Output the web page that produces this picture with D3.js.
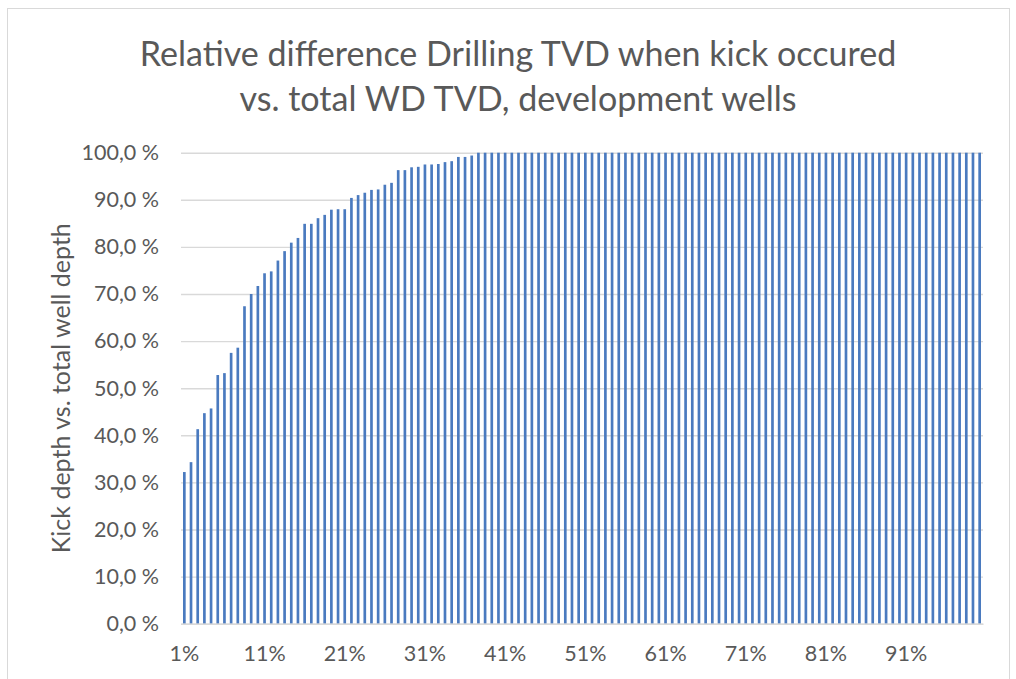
<!DOCTYPE html>
<html>
<head>
<meta charset="utf-8">
<script src="https://cdn.jsdelivr.net/npm/d3@7"></script>
<style>
  html, body { margin: 0; padding: 0; background: #ffffff; }
  svg { display: block; }
  text { font-family: "Lato", "Open Sans", sans-serif; fill: #595959; }
</style>
</head>
<body>
<svg id="chart" width="1016" height="679"></svg>
<script>
// ---- Data ----
const titleLines = ["Relative difference Drilling TVD when kick occured", "vs. total WD TVD, development wells"];
const yAxisTitle = "Kick depth vs. total well depth";
const yTicks = [0, 0.1, 0.2, 0.3, 0.4, 0.5, 0.6, 0.7, 0.8, 0.9, 1.0];
const categoryCount = 120;
const categories = d3.range(1, categoryCount + 1).map(i => i / categoryCount);
const labelEvery = 12;
const values = [
  0.322, 0.343, 0.413, 0.447, 0.457, 0.528, 0.532, 0.575, 0.586, 0.674,
  0.700, 0.717, 0.744, 0.748, 0.771, 0.791, 0.809, 0.819, 0.849, 0.849,
  0.861, 0.868, 0.879, 0.880, 0.880, 0.904, 0.910, 0.915, 0.921, 0.922,
  0.932, 0.936, 0.963, 0.963, 0.969, 0.970, 0.975, 0.975, 0.976, 0.980,
  0.982, 0.991, 0.991, 0.994, 1.000, 1.000, 1.000, 1.000, 1.000, 1.000,
  1.000, 1.000, 1.000, 1.000, 1.000, 1.000, 1.000, 1.000, 1.000, 1.000,
  1.000, 1.000, 1.000, 1.000, 1.000, 1.000, 1.000, 1.000, 1.000, 1.000,
  1.000, 1.000, 1.000, 1.000, 1.000, 1.000, 1.000, 1.000, 1.000, 1.000,
  1.000, 1.000, 1.000, 1.000, 1.000, 1.000, 1.000, 1.000, 1.000, 1.000,
  1.000, 1.000, 1.000, 1.000, 1.000, 1.000, 1.000, 1.000, 1.000, 1.000,
  1.000, 1.000, 1.000, 1.000, 1.000, 1.000, 1.000, 1.000, 1.000, 1.000,
  1.000, 1.000, 1.000, 1.000, 1.000, 1.000, 1.000, 1.000, 1.000, 1.000
];

// ---- Layout ----
const svg = d3.select("#chart");
const plot = { left: 181, right: 983, top: 152.7, bottom: 623.7 };

const x = d3.scaleBand()
  .domain(categories.map((c, i) => i))
  .range([plot.left, plot.right])
  .paddingInner(0.6)
  .paddingOuter(0.3);

const y = d3.scaleLinear().domain([0, 1]).range([plot.bottom, plot.top]);

const fmtPct0 = d => Math.round(d * 100) + "%";
const fmtY = d => (d * 100).toFixed(1).replace(".", ",") + " %";

// chart border
svg.append("rect")
  .attr("x", 7.5).attr("y", 8.5)
  .attr("width", 1002).attr("height", 700)
  .attr("fill", "none").attr("stroke", "#d9d9d9").attr("stroke-width", 1);

// gridlines + y labels
const yAxisG = svg.append("g")
  .attr("transform", `translate(${plot.left},0)`)
  .call(d3.axisLeft(y).tickValues(yTicks).tickSize(-(plot.right - plot.left)).tickFormat(fmtY).tickPadding(22));
yAxisG.select(".domain").remove();
yAxisG.selectAll(".tick line").attr("stroke", "#d9d9d9").attr("stroke-width", 1.4);
yAxisG.selectAll(".tick text")
  .attr("fill", "#595959").style("font-size", "21.5px").style("font-family", "Lato, sans-serif");

// bars
svg.append("g").selectAll("rect")
  .data(values)
  .join("rect")
  .attr("x", (d, i) => x(i))
  .attr("width", x.bandwidth())
  .attr("y", d => y(d))
  .attr("height", d => y(0) - y(d))
  .attr("fill", "#4a7abf");

// x axis
const xAxisG = svg.append("g")
  .attr("transform", `translate(0,${plot.bottom})`)
  .call(d3.axisBottom(x)
    .tickValues(categories.map((c, i) => i).filter(i => i % labelEvery === 0))
    .tickFormat(i => fmtPct0(categories[i]))
    .tickSize(0).tickPadding(22));
xAxisG.select(".domain").attr("stroke", "#d9d9d9").attr("stroke-width", 1.4);
xAxisG.selectAll(".tick text")
  .attr("fill", "#595959").style("font-size", "21.5px").style("font-family", "Lato, sans-serif");

// y axis title
svg.append("text")
  .attr("transform", `translate(70,${(plot.top + plot.bottom) / 2 + 0}) rotate(-90)`)
  .attr("text-anchor", "middle")
  .style("font-size", "25px")
  .text(yAxisTitle);

// title
const titleG = svg.append("g");
const titleY = [66, 111];
const titleWidths = [757, 555];
titleLines.forEach((t, i) => {
  titleG.append("text")
    .attr("x", 518).attr("y", titleY[i])
    .attr("text-anchor", "middle")
    .style("font-size", "30px")
    .text(t);
});
const w0 = titleG.select("text").node().getComputedTextLength();
const fs = 30 * titleWidths[0] / w0;
titleG.selectAll("text").style("font-size", fs + "px");
</script>
</body>
</html>
